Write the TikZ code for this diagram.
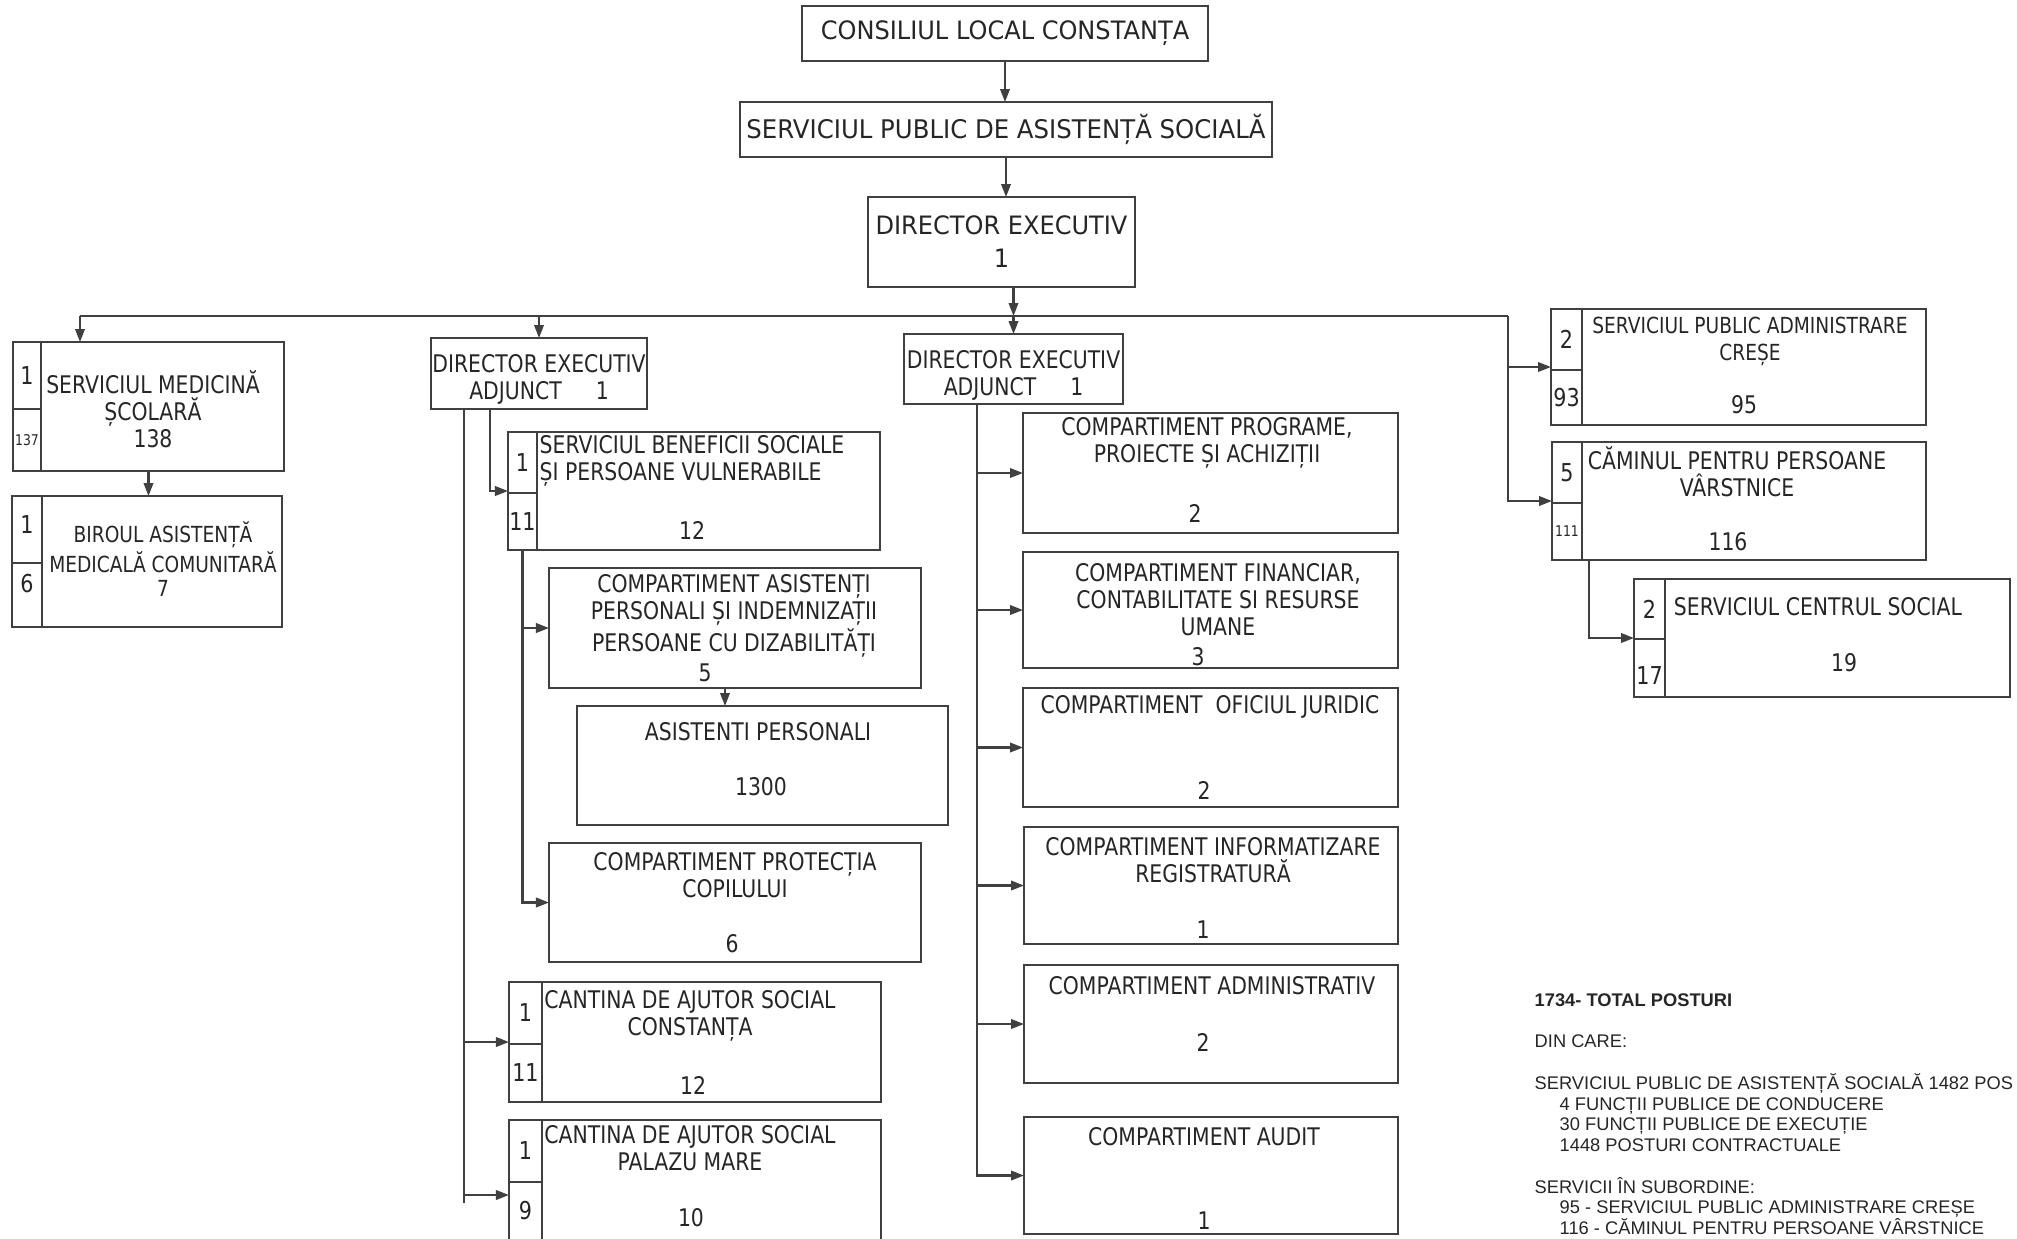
\documentclass[tikz,border=0pt]{standalone}
\usepackage{fontspec}
\usepackage{tikz}
\usetikzlibrary{fit,calc,arrows.meta}
\newfontfamily\boxfont[FakeStretch=0.84]{DejaVu Sans}
\newfontfamily\headfont[FakeStretch=0.95]{DejaVu Sans}
\newfontfamily\notefont{Liberation Sans}

\begin{document}
\begin{tikzpicture}[x=0.01cm, y=-0.01cm,
    box/.style={draw=black!75, line width=0.6pt, inner sep=0pt, outer sep=0pt, rectangle},
    txt/.style={inner sep=0pt, align=center, text=black!85, font=\boxfont\fontsize{6.9}{7.7}\selectfont},
    head/.style={txt, font=\headfont\fontsize{7.2}{8}\selectfont},
    num/.style={inner sep=0pt, text=black!85, font=\boxfont\fontsize{7}{8}\selectfont},
    small/.style={font=\boxfont\fontsize{4.2}{5}\selectfont},
    note/.style={inner sep=0pt, align=left, text=black!85, font=\notefont\fontsize{5.2}{5.9}\selectfont},
    link/.style={draw=black!75, line width=0.6pt},
    arr/.style={link, -{Triangle[length=1.3mm, width=0.95mm]}}]

        % Page
        \useasboundingbox (0,0) rectangle (2017,1238);
        \fill[white] (0,0) rectangle (2017,1238);
        \clip (0,0) rectangle (2017,1238);

        % Top of the chart
        \node[box, fit={(802,6) (1208,61)}, label={[head]center:CONSILIUL LOCAL CONSTANȚA}] (cl) {};
        \node[box, fit={(740,102) (1272,157)}, label={[head, font=\headfont\fontsize{7.3}{8}\selectfont]center:SERVICIUL PUBLIC DE ASISTENȚĂ SOCIALĂ}] (spas) {};
        \node[box, fit={(868,197) (1135,287)}, label={[head]center:{DIRECTOR EXECUTIV\\[1.4pt]1}}] (de) {};

        % Deputy directors
        \node[box, fit={(431,338) (647,409)}, label={[txt, yshift=-1.7pt]center:{DIRECTOR EXECUTIV\\ADJUNCT\hspace{3.4mm}1}}] (dea1) {};
        \node[box, fit={(904,334) (1123,404)}, label={[txt, yshift=-1.7pt]center:{DIRECTOR EXECUTIV\\ADJUNCT\hspace{3.4mm}1}}] (dea2) {};

        % Left column
        \node[box, fit={(13,342) (284,471)}] (sms) {};
        \node[box, fit={(13,342) (41,409)}, label={[num]center:1}] (smsA) {};
        \node[box, fit={(13,409) (41,471)}, label={[num, small]center:137}] (smsB) {};
        \node[txt] (smsT) at (153,409) {SERVICIUL MEDICINĂ\\ȘCOLARĂ\\138};

        \node[box, fit={(12,496) (282,627)}] (bamc) {};
        \node[box, fit={(12,496) (42,563)}, label={[num, yshift=1.5pt]center:1}] (bamcA) {};
        \node[box, fit={(12,563) (42,627)}, label={[num, yshift=3.4pt]center:6}] (bamcB) {};
        \node[txt, font=\boxfont\fontsize{6.3}{7}\selectfont] (bamcT) at (163,559) {BIROUL ASISTENȚĂ\\MEDICALĂ COMUNITARĂ\\7};

        % Under the first deputy
        \node[box, fit={(508,432) (880,550)}] (sbs) {};
        \node[box, fit={(508,432) (537,493)}, label={[num]center:1}] (sbsA) {};
        \node[box, fit={(508,493) (537,550)}, label={[num]center:11}] (sbsB) {};
        \node[txt, align=left, anchor=west] (sbsT) at (539,461) {SERVICIUL BENEFICII SOCIALE\\ȘI PERSOANE VULNERABILE};
        \node[txt] (sbsN) at (692,530) {12};

        \node[box, fit={(549,568) (921,688)}] (capi) {};
        \node[txt] (capiT) at (734,616) {COMPARTIMENT ASISTENȚI\\PERSONALI ȘI INDEMNIZAȚII\\PERSOANE CU DIZABILITĂȚI};
        \node[txt] (capiN) at (705,673) {5};

        \node[box, fit={(577,706) (948,825)}] (ap) {};
        \node[txt] (apT) at (758,732) {ASISTENTI PERSONALI};
        \node[txt] (apN) at (761,787) {1300};

        \node[box, fit={(549,843) (921,962)}] (cpc) {};
        \node[txt] (cpcT) at (735,875) {COMPARTIMENT PROTECȚIA\\COPILULUI};
        \node[txt] (cpcN) at (732,944) {6};

        \node[box, fit={(509,982) (881,1102)}] (casc) {};
        \node[box, fit={(509,982) (542,1044)}, label={[num]center:1}] (cascA) {};
        \node[box, fit={(509,1044) (542,1102)}, label={[num]center:11}] (cascB) {};
        \node[txt] (cascT) at (690,1016) {CANTINA DE AJUTOR SOCIAL\\CONSTANȚA};
        \node[txt] (cascN) at (693,1085) {12};

        \node[box, fit={(509,1120) (881,1240)}] (casp) {};
        \node[box, fit={(509,1120) (542,1182)}, label={[num]center:1}] (caspA) {};
        \node[box, fit={(509,1182) (542,1240)}, label={[num]center:9}] (caspB) {};
        \node[txt] (caspT) at (690,1148) {CANTINA DE AJUTOR SOCIAL\\PALAZU MARE};
        \node[txt] (caspN) at (691,1218) {10};

        % Under the second deputy
        \node[box, fit={(1023,413) (1398,533)}] (cppa) {};
        \node[txt] (cppaT) at (1207,443) {COMPARTIMENT PROGRAME,\\PROIECTE ȘI ACHIZIȚII};
        \node[txt] (cppaN) at (1195,513) {2};

        \node[box, fit={(1023,552) (1398,668)}] (cfin) {};
        \node[txt] (cfinT) at (1218,600) {COMPARTIMENT FINANCIAR,\\CONTABILITATE SI RESURSE\\UMANE};
        \node[txt] (cfinN) at (1198,657) {3};

        \node[box, fit={(1023,688) (1398,807)}] (cjur) {};
        \node[txt] (cjurT) at (1210,707) {COMPARTIMENT\ \ OFICIUL JURIDIC};
        \node[txt] (cjurN) at (1204,790) {2};

        \node[box, fit={(1024,827) (1398,944)}] (cinf) {};
        \node[txt] (cinfT) at (1213,860) {COMPARTIMENT INFORMATIZARE\\REGISTRATURĂ};
        \node[txt] (cinfN) at (1203,930) {1};

        \node[box, fit={(1024,965) (1398,1083)}] (cadm) {};
        \node[txt] (cadmT) at (1212,986) {COMPARTIMENT ADMINISTRATIV};
        \node[txt] (cadmN) at (1203,1042) {2};

        \node[box, fit={(1024,1117) (1398,1234)}] (caud) {};
        \node[txt] (caudT) at (1204,1137) {COMPARTIMENT AUDIT};
        \node[txt] (caudN) at (1204,1221) {1};

        % Right column
        \node[box, fit={(1551,309) (1926,425)}] (spac) {};
        \node[box, fit={(1551,309) (1582,370)}, label={[num]center:2}] (spacA) {};
        \node[box, fit={(1551,370) (1582,425)}, label={[num]center:93}] (spacB) {};
        \node[txt, font=\boxfont\fontsize{6.3}{7.7}\selectfont] (spacT) at (1750,341) {SERVICIUL PUBLIC ADMINISTRARE\\CREȘE};
        \node[txt] (spacN) at (1744,405) {95};

        \node[box, fit={(1552,442) (1926,560)}] (camin) {};
        \node[box, fit={(1552,442) (1582,503)}, label={[num]center:5}] (caminA) {};
        \node[box, fit={(1552,503) (1582,560)}, label={[num, small]center:111}] (caminB) {};
        \node[txt] (caminT) at (1737,472) {CĂMINUL PENTRU PERSOANE\\VÂRSTNICE};
        \node[txt] (caminN) at (1728,542) {116};

        \node[box, fit={(1634,579) (2010,697)}] (scs) {};
        \node[box, fit={(1634,579) (1665,639)}, label={[num]center:2}] (scsA) {};
        \node[box, fit={(1634,639) (1665,697)}, label={[num, yshift=-2pt]center:17}] (scsB) {};
        \node[txt] (scsT) at (1818,607) {SERVICIUL CENTRUL SOCIAL};
        \node[txt] (scsN) at (1844,663) {19};

        % Totals
        \node[note, anchor=north west] (totals) at (1534,993) {\textbf{1734- TOTAL POSTURI}\\[5.9pt]
            DIN CARE:\\[5.9pt]
            SERVICIUL PUBLIC DE ASISTENȚĂ SOCIALĂ 1482 POS\\
            \hspace*{2.5mm}4 FUNCȚII PUBLICE DE CONDUCERE\\
            \hspace*{2.5mm}30 FUNCȚII PUBLICE DE EXECUȚIE\\
            \hspace*{2.5mm}1448 POSTURI CONTRACTUALE\\[5.9pt]
            SERVICII ÎN SUBORDINE:\\
            \hspace*{2.5mm}95 - SERVICIUL PUBLIC ADMINISTRARE CREȘE\\
            \hspace*{2.5mm}116 - CĂMINUL PENTRU PERSOANE VÂRSTNICE};

        % Bus and branch points
        \coordinate (busL) at (80,316);
        \coordinate (busR) at (1508,316);
        \coordinate (d1L) at ($(dea1.south west)+(33,0)$);
        \coordinate (d1R) at ($(dea1.south west)+(59,0)$);
        \coordinate (d2) at ($(dea2.south west)+(73,0)$);
        \coordinate (cm) at ($(camin.south west)+(37,0)$);

        % Main chain
        \draw[arr] (cl.south) -- (cl.south |- spas.north);
        \draw[arr] (spas.south) -- (spas.south |- de.north);
        \draw[arr] (de.south -| dea2.north) -- (busL -| dea2.north);
        \draw[link] (busL) -- (busR);
        \draw[arr] (busL) -- (busL |- sms.north);
        \draw[arr] (busL -| dea1.north) -- (dea1.north);
        \draw[arr] (busL -| dea2.north) -- (dea2.north);
        \draw[arr] (busR) |- (spac.west);
        \draw[arr] (busR) |- (camin.west);
        \draw[arr] (sms.south) -- (sms.south |- bamc.north);

        % First deputy
        \draw[arr] (d1R) |- (sbs.west);
        \draw[arr] (d1L) |- ($(casp.west)+(0,15)$);
        \draw[link] ($(d1L |- casp.west)+(0,15)$) -- ($(d1L |- casp.west)+(0,23)$);
        \draw[arr] (d1L |- casc.west) -- (casc.west);
        \draw[arr] (sbsB.south) |- (cpc.west);
        \draw[arr] (sbsB.south |- capi.west) -- (capi.west);
        \draw[arr] ($(capi.south)+(-10,0)$) -- ($(capi.south |- ap.north)+(-10,0)$);

        % Second deputy
        \draw[arr] (d2) |- (caud.west);
        \draw[arr] (d2 |- cppa.west) -- (cppa.west);
        \draw[arr] (d2 |- cfin.west) -- (cfin.west);
        \draw[arr] (d2 |- cjur.west) -- (cjur.west);
        \draw[arr] (d2 |- cinf.west) -- (cinf.west);
        \draw[arr] (d2 |- cadm.west) -- (cadm.west);

        % Centrul social
        \draw[arr] (cm) |- (scs.west);

    \end{tikzpicture}
\end{document}
